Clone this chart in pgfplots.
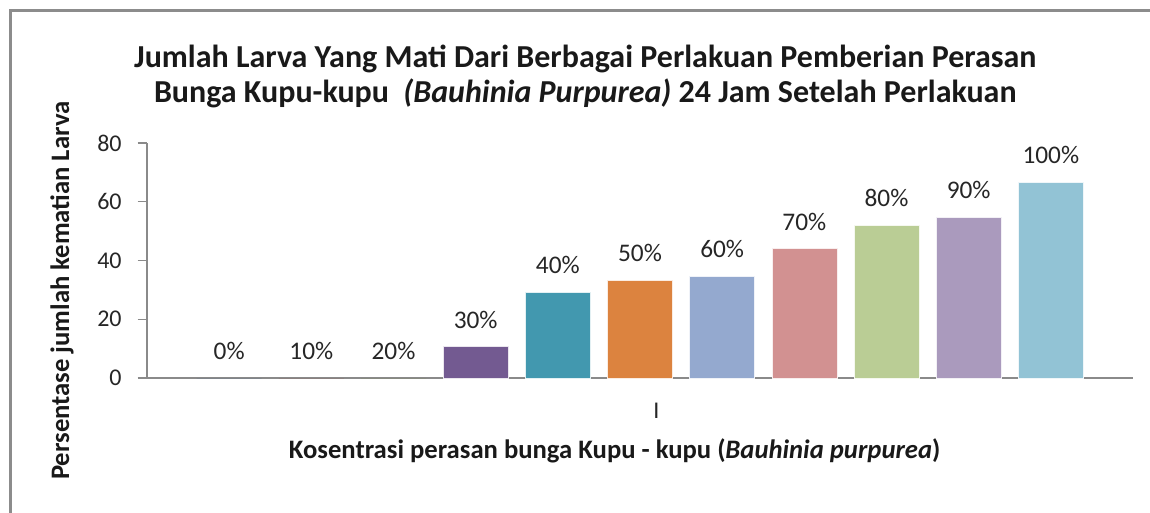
\documentclass[border=0pt]{standalone}
\usepackage{fontspec}
\setmainfont{Carlito}
\usepackage{pgfplots}
\pgfplotsset{compat=1.18}
\definecolor{frame}{HTML}{8C8C8C}
\definecolor{axisgray}{HTML}{8A8A8A}
\definecolor{c0}{HTML}{3A5F8F}
\definecolor{c10}{HTML}{8F3B38}
\definecolor{c20}{HTML}{738C42}
\definecolor{c30}{HTML}{735A91}
\definecolor{c40}{HTML}{4298AF}
\definecolor{c50}{HTML}{DC833F}
\definecolor{c60}{HTML}{94A9CF}
\definecolor{c70}{HTML}{D29191}
\definecolor{c80}{HTML}{BACD95}
\definecolor{c90}{HTML}{AA9ABD}
\definecolor{c100}{HTML}{92C3D5}
\begin{document}
\begin{tikzpicture}
\useasboundingbox (0,0) rectangle (862.5pt,-384pt);
\draw[color=frame, line width=2.2pt] (8pt,-420pt) -- (8pt,-8pt) -- (900pt,-8pt);
\node[align=center, font=\bfseries\fontsize{24}{26.25}\selectfont, text=black!90] at (439pt,-57pt)
  {Jumlah Larva Yang Mati Dari Berbagai Perlakuan Pemberian Perasan\\
   Bunga Kupu-kupu\ \ \textit{(Bauhinia Purpurea)} 24 Jam Setelah Perlakuan};
\node[font=\bfseries\fontsize{20}{24}\selectfont, text=black!90] at (461pt,-338pt)
  {Kosentrasi perasan bunga Kupu - kupu (\textit{Bauhinia purpurea})};
\node[rotate=90, font=\bfseries\fontsize{20}{24}\selectfont, text=black!90] at (46.5pt,-218pt)
  {Persentase jumlah kematian Larva};
\begin{axis}[
  at={(110.25pt,-283.5pt)}, anchor=south west,
  scale only axis, width=739.5pt, height=176.25pt,
  xmin=-1, xmax=11, ymin=0, ymax=80,
  axis x line=bottom, axis y line=left,
  axis line style={-, draw=axisgray, line width=0.9pt},
  ytick={0,20,40,60,80},
  xtick={5.2}, xticklabels={I},
  x tick style={draw=none},
  y tick style={draw=axisgray, line width=0.9pt},
  tick align=outside, major tick length=7pt,
  ticklabel style={font=\fontsize{18}{20}\selectfont, text=black!85},
  /pgf/number format/assume math mode=true,
  yticklabel style={xshift=-8.5pt},
  xticklabel style={yshift=-8pt},
  ybar, bar width=48.75pt, bar shift=0pt,
  nodes near coords style={anchor=base, yshift=14pt, font=\fontsize{19}{21}\selectfont, text=black!85},
  clip=false,
]
\addplot[fill=c0, draw=none, nodes near coords={0\%}] coordinates {(0,0)};
\addplot[fill=c10, draw=none, nodes near coords={10\%}] coordinates {(1,0)};
\addplot[fill=c20, draw=none, nodes near coords={20\%}] coordinates {(2,0)};
\addplot[fill=c30, draw=white!85!c30, nodes near coords={30\%}] coordinates {(3,10.67)};
\addplot[fill=c40, draw=white!85!c40, nodes near coords={40\%}] coordinates {(4,29.33)};
\addplot[fill=c50, draw=white!85!c50, nodes near coords={50\%}] coordinates {(5,33.33)};
\addplot[fill=c60, draw=white!85!c60, nodes near coords={60\%}] coordinates {(6,34.67)};
\addplot[fill=c70, draw=white!85!c70, nodes near coords={70\%}] coordinates {(7,44)};
\addplot[fill=c80, draw=white!85!c80, nodes near coords={80\%}] coordinates {(8,52)};
\addplot[fill=c90, draw=white!85!c90, nodes near coords={90\%}] coordinates {(9,54.67)};
\addplot[fill=c100, draw=white!85!c100, nodes near coords={100\%}] coordinates {(10,66.67)};
\end{axis}
\end{tikzpicture}
\end{document}
